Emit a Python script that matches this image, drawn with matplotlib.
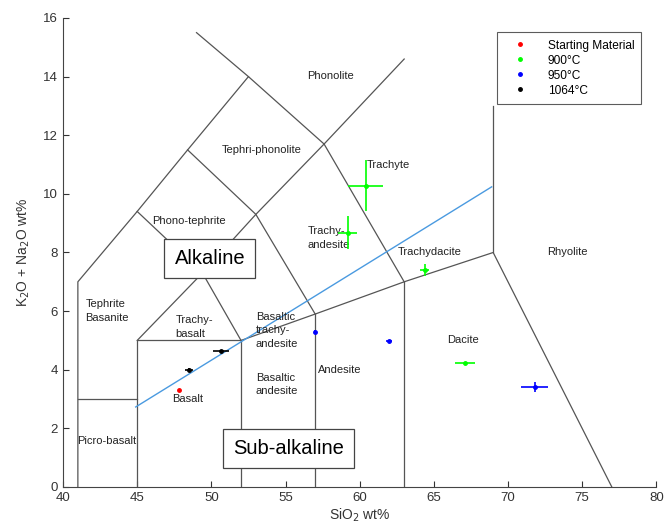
import matplotlib
matplotlib.use("Agg")
import matplotlib.pyplot as plt
from matplotlib.lines import Line2D

plt.rcParams['font.family'] = ['Liberation Sans', 'DejaVu Sans']

# TAS field boundary polylines (SiO2, Na2O+K2O)
boundaries = [
    [(41, 0), (41, 7), (45, 9.4), (48.4, 11.5), (52.5, 14), (57.6, 11.7)],
    [(49.0, 15.5), (52.5, 14)],
    [(41, 3), (45, 3)],
    [(45, 0), (45, 5), (52, 5), (52, 0)],
    [(45, 5), (49.4, 7.3), (53, 9.3), (57.6, 11.7), (63, 14.6)],
    [(45, 9.4), (49.4, 7.3), (52, 5)],
    [(48.4, 11.5), (53, 9.3), (57, 5.9)],
    [(57.6, 11.7), (63, 7)],
    [(52, 5), (57, 5.9), (63, 7), (69, 8), (77, 0)],
    [(57, 0), (57, 5.9)],
    [(63, 0), (63, 7)],
    [(69, 8), (69, 13)],
]

# Alkaline / sub-alkaline divide
divide_x = [44.9, 68.9]
divide_y = [2.73, 10.24]

# Field labels
field_names = ["Phonolite", "Tephri-phonolite", "Phono-tephrite", "Trachyte",
               "Trachy-\nandesite", "Trachydacite", "Rhyolite", "Tephrite\nBasanite",
               "Trachy-\nbasalt", "Basaltic\ntrachy-\nandesite", "Basaltic\nandesite",
               "Andesite", "Dacite", "Basalt", "Picro-basalt"]
field_x = [58.0, 53.4, 48.5, 60.5, 56.5, 64.75, 74.0, 41.5, 47.6, 53.0, 53.0, 57.2, 65.9, 47.35, 40.95]
field_y = [14.03, 11.5, 9.08, 11.0, 8.5, 8.0, 8.0, 6.0, 5.45, 5.35, 3.5, 4.0, 5.0, 3.0, 1.57]
field_ha = ["center", "center", "center", "left", "left", "center", "center", "left",
            "left", "left", "left", "left", "left", "left", "left"]

# Data
start_x = [47.8]
start_y = [3.31]

g900_x = [60.4, 59.2, 64.4, 67.1]
g900_y = [10.27, 8.67, 7.4, 4.23]
g900_xerr = [1.2, 0.65, 0.3, 0.7]
g900_yerr = [0.87, 0.56, 0.2, 0.05]

b950_x = [57.0, 62.0, 71.8]
b950_y = [5.29, 4.98, 3.41]
b950_xerr = [0.0, 0.2, 0.9]
b950_yerr = [0.05, 0.05, 0.18]

k1064_x = [48.5, 50.65]
k1064_y = [4.0, 4.64]
k1064_xerr = [0.25, 0.55]
k1064_yerr = [0.05, 0.05]

legend_labels = ["Starting Material", "900°C", "950°C", "1064°C"]
legend_colors = ["#ff0000", "#00ff00", "#0000ff", "#000000"]

fig = plt.figure(figsize=(6.67, 5.29), dpi=100)
ax = fig.add_axes([0.0945, 0.0794, 0.8895, 0.8866])

for line in boundaries:
    xs = [p[0] for p in line]
    ys = [p[1] for p in line]
    ax.plot(xs, ys, color="#555555", lw=0.9, zorder=2)

ax.plot(divide_x, divide_y, color="#4a9ae0", lw=1.0, zorder=3)

for name, x, y, ha in zip(field_names, field_x, field_y, field_ha):
    ax.text(x, y, name, ha=ha, va="center", fontsize=8, color="#222222",
            linespacing=1.45, zorder=4)

ax.text(49.9, 7.8, "Alkaline", ha="center", va="center", fontsize=14.5,
        bbox=dict(boxstyle="square,pad=0.5", fc="white", ec="#444444", lw=0.9), zorder=5)
ax.text(55.2, 1.3, "Sub-alkaline", ha="center", va="center", fontsize=14.5,
        bbox=dict(boxstyle="square,pad=0.5", fc="white", ec="#444444", lw=0.9), zorder=5)

ax.plot(start_x, start_y, ".", color="#ff0000", ms=5, zorder=6)
ax.errorbar(g900_x, g900_y, xerr=g900_xerr, yerr=g900_yerr, fmt=".", color="#00ff00",
            ms=5, elinewidth=1.2, capsize=0, zorder=6)
ax.errorbar(b950_x, b950_y, xerr=b950_xerr, yerr=b950_yerr, fmt=".", color="#0000ff",
            ms=5, elinewidth=1.2, capsize=0, zorder=6)
ax.errorbar(k1064_x, k1064_y, xerr=k1064_xerr, yerr=k1064_yerr, fmt=".", color="#000000",
            ms=5, elinewidth=1.2, capsize=0, zorder=6)

handles = [Line2D([], [], ls="none", marker=".", color=c, ms=5) for c in legend_colors]
leg = ax.legend(handles, legend_labels, loc="upper right", bbox_to_anchor=(0.985, 0.982),
                fontsize=8.6, frameon=True, fancybox=False, edgecolor="#333333",
                handlelength=2.6, borderpad=0.6, labelspacing=0.25, handletextpad=1.0)
leg.get_frame().set_linewidth(0.8)

ax.set_xlim(40, 80)
ax.set_ylim(0, 16)
ax.set_xticks(range(40, 81, 5))
ax.set_yticks(range(0, 17, 2))
ax.spines["top"].set_visible(False)
ax.spines["right"].set_visible(False)
for s in ["left", "bottom"]:
    ax.spines[s].set_color("#444444")
    ax.spines[s].set_linewidth(0.8)
ax.tick_params(direction="in", length=4, labelsize=9.5, colors="#333333")
ax.set_xlabel("SiO$_2$ wt%", fontsize=10, color="#333333", labelpad=2)
ax.set_ylabel("K$_2$O + Na$_2$O wt%", fontsize=10, color="#333333", labelpad=8)

fig.savefig("out.png", dpi=100)
